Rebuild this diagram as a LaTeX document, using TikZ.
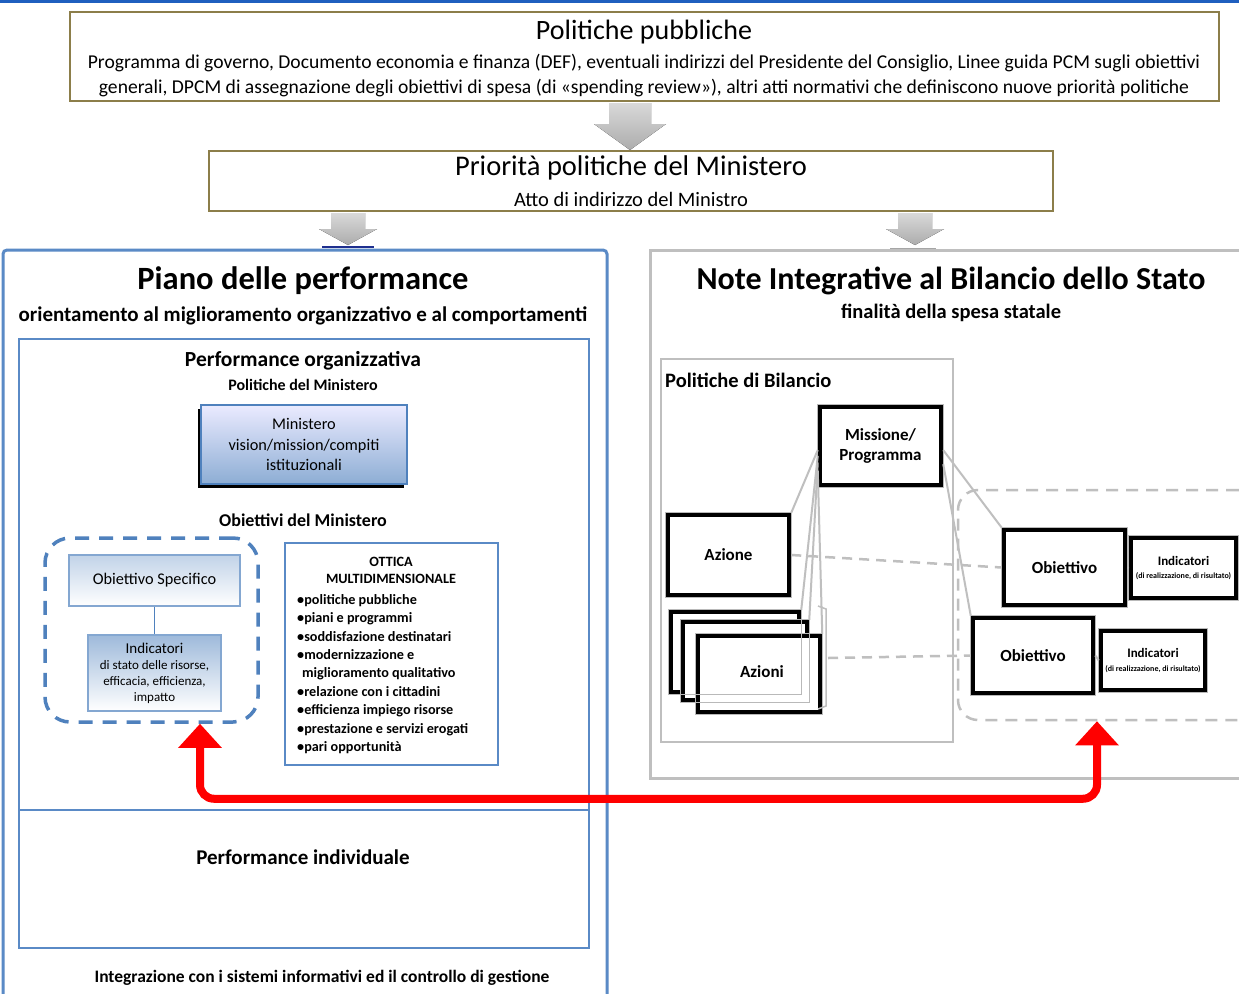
\documentclass[tikz,border=0pt]{standalone}
\usepackage{fontspec}
\setmainfont{Carlito}
\usetikzlibrary{arrows.meta,shadows,calc}
\definecolor{oliveb}{HTML}{8C7E4A}
\definecolor{topblue}{HTML}{1F5FBF}
\definecolor{pblue}{HTML}{5A8AC6}
\definecolor{dblue}{HTML}{4F81BD}
\definecolor{lgray}{HTML}{BFBFBF}
\definecolor{navyb}{HTML}{1F2F8F}
\newcommand\fs[1]{\fontsize{#1}{\dimexpr#1pt*6/5\relax}\selectfont}
\newcommand\grayarrow[6]{%
  \fill[top color=gray!30, bottom color=gray!65]
    (#1-#4,#2) -- (#1+#4,#2) -- (#1+#4,#6) -- (#1+#5,#6) -- (#1,#3)
    -- (#1-#5,#6) -- (#1-#4,#6) -- cycle;}
\begin{document}
\begin{tikzpicture}[x=1pt,y=-1pt,
  olbox/.style={draw=oliveb, line width=2.5pt, fill=white, inner sep=0pt},
  bluebox/.style={draw=pblue, line width=2pt, inner sep=0pt},
  bbox/.style={draw=black, line width=4.5pt, fill=white, inner sep=0pt,
    font=\bfseries\fs{17}, align=center},
  thinline/.style={draw=lgray, line width=2pt},
  gdash/.style={draw=lgray, line width=2.5pt, dash pattern=on 10pt off 7pt},
  ttl/.style={font=\bfseries\fs{#1}, inner sep=0pt},
  txt/.style={font=\fs{#1}, inner sep=0pt, align=center}]
\useasboundingbox (0,0) rectangle (1239,993);
\fill[white] (0,0) rectangle (1239,993);
\fill[topblue] (0,0) rectangle (1239,3);

% --- Politiche pubbliche
\node[olbox, minimum width=1149, minimum height=89] (pp) at (644.5,56.5) {};
\node[txt=28] (ppt) at (644,32) {Politiche pubbliche};
\node[font=\fs{19.6}, align=center, inner sep=0pt] (ppd) at (644,75.5)
  {Programma di governo, Documento economia e finanza (DEF), eventuali indirizzi del Presidente del Consiglio, Linee guida PCM sugli obiettivi\\[1.5pt]
   generali, DPCM di assegnazione degli obiettivi di spesa (di «spending review»), altri atti normativi che definiscono nuove priorità politiche};

\grayarrow{630}{103}{150}{21}{36}{124}

% --- Priorita politiche
\node[olbox, minimum width=844, minimum height=60] (pm) at (631,181) {};
\node[txt=28.5] (pmt) at (631,168) {Priorità politiche del Ministero};
\node[txt=20.5] (pms) at (631,199) {Atto di indirizzo del Ministro};

\grayarrow{348}{213}{245}{17}{29}{229}
\grayarrow{915}{213}{245}{17}{29}{229}
\draw[navyb, line width=2pt] (322,247) -- (374,247);
\draw[gray!70, line width=2pt] (890,249) -- (936,249);

% --- Piano delle performance
\draw[pblue, line width=3pt, rounded corners=4pt] (3,1005) -- (3,250) -- (607,250) -- (607,1005);
\node[ttl=32.5] (pdt) at (303,281) {Piano delle performance};
\node[ttl=21] (pds) at (303,316) {orientamento al miglioramento organizzativo e al comportamenti};

\node[bluebox, minimum width=570, minimum height=471] (porg) at (304,574.5) {};
\node[bluebox, minimum width=570, minimum height=138] (pind) at (304,879) {};
\node[ttl=21.5] (port) at (303,361) {Performance organizzativa};
\node[ttl=16] (pors) at (303,385) {Politiche del Ministero};

\node[draw=dblue, line width=1.5pt, top color=blue!8, bottom color=dblue!65,
  minimum width=206, minimum height=79, inner sep=0pt, align=center, font=\fs{16.3},
  drop shadow={shadow xshift=-3pt, shadow yshift=-4pt, opacity=1, fill=black}]
  (min) at (304,444.5) {Ministero\\[1pt]vision/mission/compiti\\[1pt]istituzionali};

\node[ttl=18] (obm) at (303,520) {Obiettivi del Ministero};
\node[draw=dblue, line width=3.5pt, dash pattern=on 14pt off 10pt, rounded corners=25pt,
  minimum width=213, minimum height=184, inner sep=0pt] (od) at (151.5,630) {};
\node[draw=dblue!70, line width=1.5pt, top color=dblue!35, bottom color=white,
  minimum width=171, minimum height=51, inner sep=0pt, font=\fs{16.3}] (os) at (154.5,580.5) {Obiettivo Specifico};
\node[draw=dblue!70, line width=1.5pt, top color=dblue!55, bottom color=white,
  minimum width=133, minimum height=76, inner sep=0pt, align=center, font=\fs{13}] (ind) at (154.5,673)
  {{\fs{15}Indicatori}\\[0.5pt]di stato delle risorse,\\[0.5pt]efficacia, efficienza,\\[0.5pt]impatto};
\draw[dblue, line width=1.5pt] (os) -- (ind);

\node[bluebox, minimum width=213, minimum height=222] (ott) at (391.5,654) {};
\node[font=\bfseries\fs{14.2}, align=center, inner sep=0pt] (otth) at (391,570.5)
  {OTTICA\\[0pt]MULTIDIMENSIONALE};
\node[font=\bfseries\fs{14.2}, align=left, inner sep=0pt, anchor=north west] (ottl) at (297,594)
  {•politiche pubbliche\\[1.4pt]•piani e programmi\\[1.4pt]•soddisfazione destinatari\\[1.4pt]•modernizzazione e\\[1.4pt]\hspace*{5pt}miglioramento qualitativo\\[1.4pt]•relazione con i cittadini\\[1.4pt]•efficienza impiego risorse\\[1.4pt]•prestazione e servizi erogati\\[1.4pt]•pari opportunità};

\node[ttl=21] (pindt) at (303,857) {Performance individuale};
\node[ttl=17.5] (integ) at (322,978) {Integrazione con i sistemi informativi ed il controllo di gestione};

% --- Note integrative
\draw[lgray, line width=3pt] (650,250) rectangle (1250,778);
\node[ttl=32] (nit) at (951,281) {Note Integrative al Bilancio dello Stato};
\node[ttl=20.5] (nis) at (951,313) {finalità della spesa statale};
\node[draw=lgray, line width=2.5pt, minimum width=292, minimum height=383, inner sep=0pt] (pb) at (807,550.5) {};
\node[ttl=20.5, anchor=west] (pbt) at (665,380) {Politiche di Bilancio};

\node[draw=lgray, line width=2.5pt, dash pattern=on 12pt off 8pt, rounded corners=20pt,
  minimum width=300, minimum height=230, inner sep=0pt] (rd) at (1108,605) {};

\node[bbox, minimum width=121, minimum height=78] (mp) at (880.5,446) {Missione/\\Programma};
\node[bbox, minimum width=121, minimum height=80] (az) at (728.5,555) {Azione};
\node[bbox, minimum width=128, minimum height=80] (azA) at (735,652) {};
\node[bbox, minimum width=124, minimum height=78] (azB) at (745,661) {};
\node[bbox, minimum width=122, minimum height=76] (azC) at (759,674) {};
\node[bbox, draw=none, fill=none, anchor=center] (azt) at (762,672) {Azioni};
\node[bbox, minimum width=121, minimum height=75] (ob1) at (1064.5,567.5) {Obiettivo};
\node[bbox, minimum width=105, minimum height=60, font=\bfseries\fs{13}] (in1) at (1183.5,568) {Indicatori\\[-2pt]{\fs{8}(di realizzazione, di risultato)}};
\node[bbox, minimum width=120, minimum height=75] (ob2) at (1033,655.5) {Obiettivo};
\node[bbox, minimum width=104, minimum height=59, font=\bfseries\fs{13}] (in2) at (1153,660.5) {Indicatori\\[-2pt]{\fs{8}(di realizzazione, di risultato)}};
\foreach \n in {mp,az,azA,azB,azC,ob1,in1,ob2,in2}
  \draw[gray!55, line width=1.2pt] (\n.north west) rectangle (\n.south east);

% connectors
\draw[thinline] ($(mp.north west)!0.55!(mp.south west)$) -- (az.north east);
\draw[thinline] ($(mp.north west)!0.62!(mp.south west)$) -- (azA.north east);
\draw[thinline] ($(mp.north west)!0.70!(mp.south west)$) -- (azB.north east);
\draw[thinline] ($(mp.north west)!0.80!(mp.south west)$) -- (azC.north east);
\draw[thinline] ($(mp.north east)!0.55!(mp.south east)$) -- (ob1.north west);
\draw[thinline] ($(mp.north east)!0.72!(mp.south east)$) -- (ob2.north west);
\coordinate (br) at (828,658);
\draw[thinline, line width=1.5pt] (818,606) -- (826,609) -- (826,706) -- (818,709);
\draw[gdash] (az.east) -- (ob1.west);
\draw[gdash] (br) -- (ob2.west);
\draw[thinline] (ob1.east) -- (in1.west);
\draw[thinline] (ob2.east) -- (in2.west);

% red link
\draw[red, line width=8pt, rounded corners=14pt,
  {Triangle[width=42pt,length=24pt]}-{Triangle[width=42pt,length=24pt]}]
  ([xshift=48.5pt]od.south) -- ++(0,75) -| ([xshift=-11pt]rd.south);
\end{tikzpicture}
\end{document}
